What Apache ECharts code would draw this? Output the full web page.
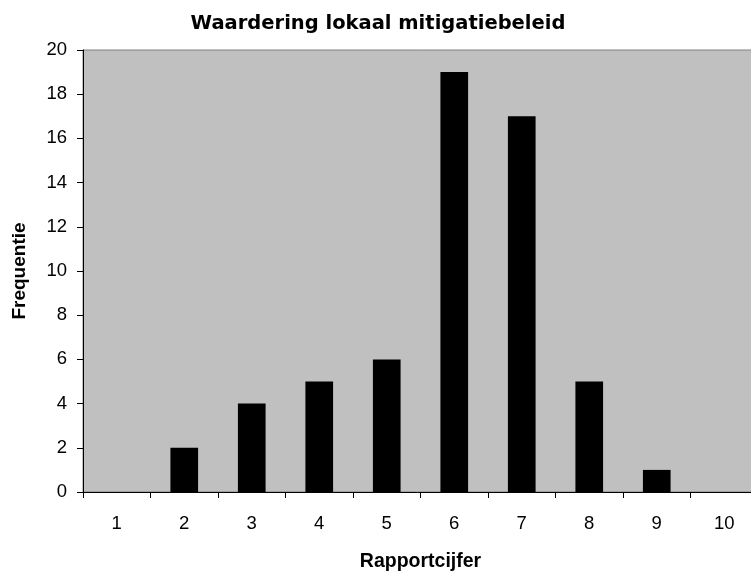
<!DOCTYPE html>
<html><head><meta charset="utf-8">
<script src="https://cdn.jsdelivr.net/npm/echarts@6/dist/echarts.min.js"></script>
<style>html,body{margin:0;padding:0;background:#fff}#c{width:751px;height:574px}</style>
</head><body><div id="c"></div>
<script>
const categories = ['1','2','3','4','5','6','7','8','9','10'];
const frequencies = [0,2,4,5,6,19,17,5,1,0];
const yTicks = {min:0, max:20, interval:2};
const titleText = 'Waardering lokaal mitigatiebeleid';
const xName = 'Rapportcijfer';
const yName = 'Frequentie';

const chart = echarts.init(document.getElementById('c'));
const font = 'Liberation Sans, Arial, sans-serif';
chart.setOption({
  animation:false,
  title:{text:titleText,left:373,textAlign:'center',top:9,textStyle:{fontFamily:'DejaVu Sans',fontSize:19.5,fontWeight:'bold',color:'#000'}},
  grid:{left:83,top:50,right:-7,bottom:82,outerBoundsMode:'none',containLabel:false,show:true,backgroundColor:'#C0C0C0',borderColor:'#808080',borderWidth:1},
  xAxis:{type:'category',data:categories,boundaryGap:true,
    name:xName,nameLocation:'middle',nameGap:60,
    nameTextStyle:{fontFamily:font,fontSize:19.5,fontWeight:'bold',color:'#000'},
    axisLine:{lineStyle:{color:'#000',width:1}},
    axisTick:{show:true,length:6,inside:false,lineStyle:{color:'#000'}},
    axisLabel:{fontFamily:font,fontSize:18.5,color:'#000',margin:22},
    splitLine:{show:false}},
  yAxis:{type:'value',min:yTicks.min,max:yTicks.max,interval:yTicks.interval,
    name:yName,nameLocation:'middle',nameGap:54,nameRotate:90,
    nameTextStyle:{fontFamily:font,fontSize:19,fontWeight:'bold',color:'#000'},
    axisLine:{show:true,lineStyle:{color:'#000',width:1}},
    axisTick:{show:true,length:6,lineStyle:{color:'#000'}},
    axisLabel:{fontFamily:font,fontSize:18.5,color:'#000',margin:16},
    splitLine:{show:false}},
  series:[{type:'bar',data:frequencies,barWidth:'41%',
    itemStyle:{color:'#000'}}]
});
</script></body></html>
